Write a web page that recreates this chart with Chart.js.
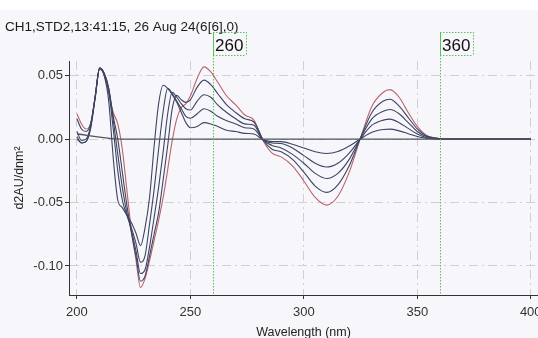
<!DOCTYPE html>
<html lang="en">
<head>
<meta charset="utf-8">
<title>d2AU/dnm2 spectra</title>
<script src="https://cdn.jsdelivr.net/npm/chart.js@4.4.1/dist/chart.umd.min.js"></script>
<style>
  html, body { margin: 0; padding: 0; background: #f7f7fb; }
  #wrap { width: 538px; height: 338px; }
</style>
</head>
<body>
<div id="wrap"><canvas id="specChart" width="538" height="338"></canvas></div>
<script>
/* =========================
   DATA
========================= */
const wavelengths = [200, 202, 204, 206, 208, 210, 212, 214, 216, 218, 220, 222, 224, 226, 228, 230, 232, 234, 236, 238,
  240, 242, 244, 246, 248, 250, 253, 256, 259, 262, 266, 270, 274, 278, 282, 286, 290, 295, 300, 305,
  310, 315, 320, 325, 330, 335, 338, 342, 346, 350, 354, 358, 362, 370, 380, 390, 400];

// highest standard (red trace)
const std6 = [0.020, 0.012, 0.008, 0.012, 0.032, 0.055, 0.051, 0.036, 0.021, 0.012, -0.008, -0.040, -0.072, -0.095, -0.117, -0.110, -0.096, -0.080, -0.064, -0.046,
  -0.024, -0.001, 0.016, 0.025, 0.028, 0.034, 0.048, 0.057, 0.053, 0.045, 0.034, 0.027, 0.019, 0.015, -0.001, -0.011, -0.014, -0.021, -0.033, -0.046,
  -0.052, -0.045, -0.026, 0.001, 0.026, 0.037, 0.039, 0.033, 0.021, 0.010, 0.003, 0.001, 0, 0, 0, 0, 0];

const std5 = [0.016, 0.008, 0.006, 0.012, 0.033, 0.056, 0.052, 0.040, 0.018, 0.000, -0.026, -0.052, -0.074, -0.092, -0.112, -0.108, -0.092, -0.075, -0.058, -0.032,
  -0.005, 0.024, 0.0345, 0.031, 0.029, 0.031, 0.041, 0.0465, 0.043, 0.036, 0.027, 0.021, 0.016, 0.0135, -0.0005, -0.008, -0.010, -0.016, -0.026, -0.037,
  -0.042, -0.036, -0.021, 0.001, 0.021, 0.030, 0.0315, 0.026, 0.017, 0.008, 0.0025, 0.0008, 0, 0, 0, 0, 0];

const std4 = [0.006, -0.001, 0.000, 0.010, 0.033, 0.056, 0.052, 0.040, 0.015, -0.012, -0.038, -0.058, -0.072, -0.088, -0.106, -0.103, -0.085, -0.062, -0.038, -0.010,
  0.020, 0.037, 0.033, 0.028, 0.024, 0.023, 0.030, 0.035, 0.033, 0.027, 0.021, 0.016, 0.012, 0.011, -0.0005, -0.005, -0.007, -0.012, -0.019, -0.027,
  -0.031, -0.027, -0.016, 0.001, 0.016, 0.022, 0.0234, 0.020, 0.013, 0.006, 0.002, 0.0006, 0, 0, 0, 0, 0];

const std3 = [0.002, -0.003, -0.002, 0.009, 0.033, 0.056, 0.051, 0.038, 0.008, -0.025, -0.048, -0.060, -0.070, -0.082, -0.097, -0.092, -0.067, -0.040, -0.008, 0.022,
  0.040, 0.036, 0.030, 0.024, 0.018, 0.0165, 0.020, 0.024, 0.022, 0.018, 0.0145, 0.012, 0.009, 0.008, -0.0005, -0.003, -0.0035, -0.007, -0.013, -0.019,
  -0.022, -0.019, -0.011, 0.0005, 0.011, 0.015, 0.0158, 0.013, 0.0085, 0.004, 0.0013, 0.0004, 0, 0, 0, 0, 0];

const std2 = [0.000, -0.003, -0.002, 0.008, 0.032, 0.056, 0.050, 0.030, -0.015, -0.048, -0.054, -0.060, -0.066, -0.074, -0.084, -0.070, -0.046, -0.006, 0.028, 0.0425,
  0.040, 0.035, 0.029, 0.021, 0.013, 0.009, 0.010, 0.013, 0.012, 0.010, 0.007, 0.006, 0.0045, 0.004, -0.0003, -0.002, -0.002, -0.004, -0.007, -0.010,
  -0.0113, -0.0098, -0.0055, 0.0003, 0.0055, 0.0076, 0.0079, 0.0065, 0.0043, 0.002, 0.0007, 0.0002, 0, 0, 0, 0, 0];

// blank, nearly flat
const blankWl = [200, 220, 400];
const blankVals = [0.004, 0, 0];

const xTicks = [200, 250, 300, 350, 400];
const yTicks = [0.05, 0.00, -0.05, -0.10];
const markers = [260, 360];
const runTitle = "CH1,STD2,13:41:15, 26 Aug 24(6[6],0)";

const FONT = "'Liberation Sans', Arial, sans-serif";
const CURSOR_GREEN = "#55c455";

document.addEventListener("DOMContentLoaded", () => {
  initChart();
});

/* =========================
   HELPERS
========================= */
function toPoints(xs, ys) {
  return xs.map((x, i) => ({ x: x, y: ys[i] }));
}

function traceSet(label, xs, ys, color, width) {
  return {
    label: label,
    data: toPoints(xs, ys),
    borderColor: color,
    borderWidth: width,
    pointRadius: 0,
    fill: false,
    cubicInterpolationMode: "monotone"
  };
}

// pixel dots, so the cursor stays crisp
function dotsV(ctx, x, y1, y2) {
  for (let y = y1; y < y2; y += 3) ctx.fillRect(x, y, 1, 1.5);
}

function dotsH(ctx, x1, x2, y) {
  for (let x = x1; x < x2; x += 3) ctx.fillRect(x, y, 1.5, 1);
}

/* =========================
   DECORATIONS: background, title, cursors
========================= */
const decorPlugin = {
  id: "decor",
  beforeDraw(chart) {
    const ctx = chart.ctx;
    ctx.save();
    ctx.fillStyle = "#f7f7fb";
    ctx.fillRect(0, 0, chart.width, chart.height);
    ctx.fillStyle = "#ffffff";
    ctx.fillRect(0, 0, chart.width, 10);
    ctx.restore();
  },
  afterDraw(chart) {
    const ctx = chart.ctx;
    const xs = chart.scales.x;
    const area = chart.chartArea;

    ctx.save();
    ctx.fillStyle = "#1a1a1a";
    ctx.font = "13.5px " + FONT;
    ctx.textBaseline = "alphabetic";
    ctx.textAlign = "left";
    ctx.fillText(runTitle, 5, 31);

    markers.forEach(m => {
      const px = Math.round(xs.getPixelForValue(m));
      const boxTop = 32, boxH = 23, boxW = 33;

      ctx.fillStyle = CURSOR_GREEN;
      dotsV(ctx, px, boxTop + boxH, area.bottom);
      dotsH(ctx, px, px + boxW, boxTop);
      dotsH(ctx, px, px + boxW, boxTop + boxH);
      dotsV(ctx, px + boxW, boxTop, boxTop + boxH);
      ctx.fillRect(px, boxTop, 1, boxH);

      ctx.fillStyle = "#111111";
      ctx.font = "17px " + FONT;
      ctx.fillText(String(m), px + 2, boxTop + 18.5);
    });
    ctx.restore();
  }
};

/* =========================
   CHART
========================= */
function initChart() {
  const canvas = document.getElementById("specChart");
  if (!canvas) return;

  const dark = "#3d4462";

  new Chart(canvas, {
    type: "line",
    data: {
      datasets: [
        traceSet("blank", blankWl, blankVals, "#50545e", 1.4),
        traceSet("std2", wavelengths, std2, dark, 1.1),
        traceSet("std3", wavelengths, std3, dark, 1.1),
        traceSet("std4", wavelengths, std4, dark, 1.1),
        traceSet("std5", wavelengths, std5, dark, 1.1),
        traceSet("std6", wavelengths, std6, "#bb6269", 1.1)
      ]
    },
    options: {
      responsive: false,
      animation: false,
      layout: { padding: { top: 61, right: 0, bottom: 0, left: 0 } },
      plugins: {
        legend: { display: false },
        tooltip: { enabled: false }
      },
      scales: {
        x: {
          type: "linear",
          min: 196.5,
          max: 403.2,
          afterBuildTicks: s => { s.ticks = xTicks.map(v => ({ value: v })); },
          afterFit: s => { s.height = 43; s.paddingLeft = 0; s.paddingRight = 0; },
          ticks: {
            color: "#333",
            font: { family: FONT, size: 13 },
            padding: 6,
            maxRotation: 0,
            autoSkip: false,
            callback: v => String(v)
          },
          grid: { color: "#cfcfd5", tickLength: 4, tickColor: "#333", tickBorderDash: [] },
          border: { color: "#333", dash: [9, 4, 2, 4] },
          title: {
            display: true,
            text: "Wavelength (nm)",
            color: "#222",
            font: { family: FONT, size: 12.5 },
            padding: { top: 0, bottom: -2 }
          }
        },
        y: {
          min: -0.1229,
          max: 0.0616,
          afterBuildTicks: s => { s.ticks = yTicks.map(v => ({ value: v })); },
          afterFit: s => { s.width = 69; },
          ticks: {
            color: "#333",
            font: { family: FONT, size: 13 },
            padding: 2,
            callback: v => v.toFixed(2)
          },
          grid: { color: "#cfcfd5", tickLength: 4, tickColor: "#333", tickBorderDash: [] },
          border: { color: "#333", dash: [9, 4, 2, 4] },
          title: {
            display: true,
            text: "d2AU/dnm²",
            color: "#222",
            font: { family: FONT, size: 12.5 },
            padding: { top: 12, bottom: 0 }
          }
        }
      }
    },
    plugins: [decorPlugin]
  });
}
</script>
</body>
</html>
